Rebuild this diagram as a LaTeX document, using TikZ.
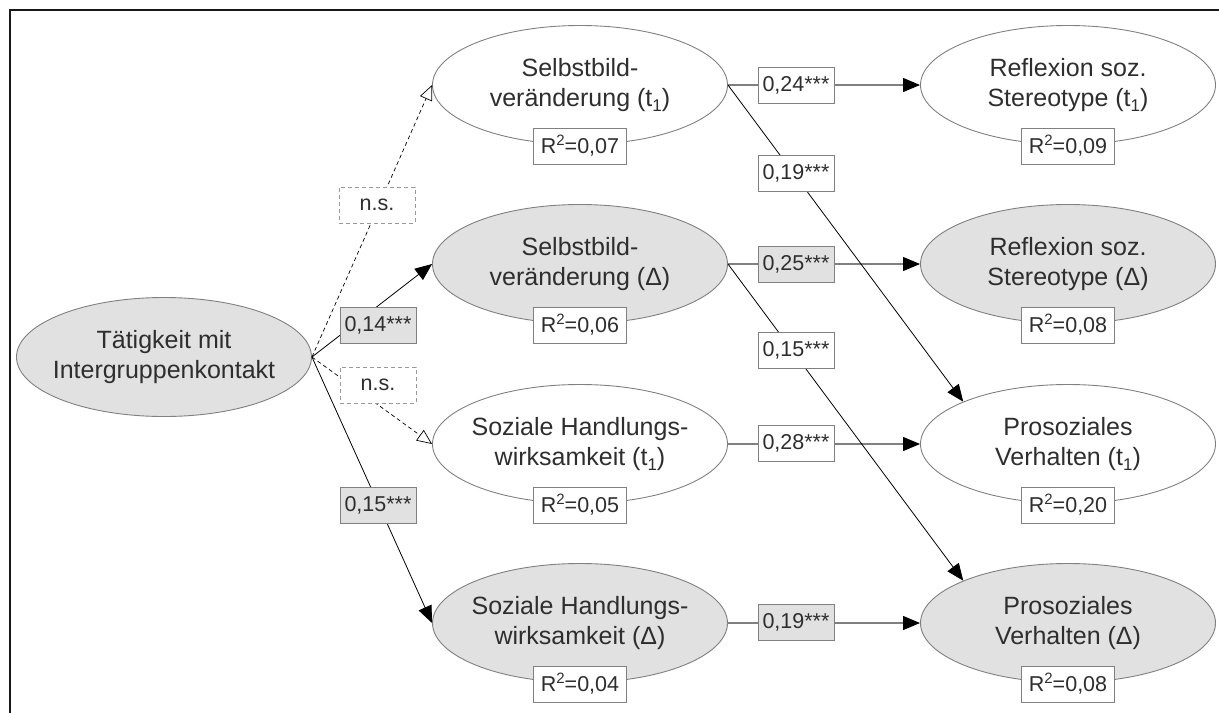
\documentclass[tikz,border=0pt]{standalone}
\usepackage{fontspec}
\setmainfont{Liberation Sans}
\usetikzlibrary{shapes.geometric,arrows.meta}
\definecolor{fillg}{HTML}{E1E1E1}
\definecolor{lineg}{HTML}{808080}
\definecolor{txt}{HTML}{2E2E2E}
\newcommand{\tone}{t\raisebox{-5pt}{\fontsize{17}{17}\selectfont 1}}
\newcommand{\rsq}{R\raisebox{8pt}{\fontsize{15}{15}\selectfont 2}}
\begin{document}
\begin{tikzpicture}[x=1pt,y=-1pt,
  var/.style={ellipse,draw=lineg,line width=0.9pt,minimum width=295pt,minimum height=119pt,
    inner xsep=-12pt,inner ysep=0pt,align=center,text=txt,font=\fontsize{25}{30}\selectfont},
  lat/.style={var,fill=fillg},
  rbox/.style={draw=lineg,fill=white,line width=0.9pt,minimum width=93pt,minimum height=36pt,
    inner sep=0pt,text=txt,font=\fontsize{21.5}{24}\selectfont},
  cbox/.style={rbox,minimum width=76pt},
  gbox/.style={cbox,fill=fillg},
  nbox/.style={cbox,draw=lineg!80,dash pattern=on 4pt off 3pt},
  sig/.style={draw=black,line width=0.8pt,-{Triangle[length=17pt,width=14pt]}},
  hsig/.style={draw=lineg,line width=1.1pt,-{Triangle[length=17pt,width=14pt,color=black]}},
  nsig/.style={draw=black,line width=0.7pt,dash pattern=on 4pt off 3pt,
    -{Triangle[open,length=15pt,width=13pt,fill=white,color=black]}}
]
\useasboundingbox (0,0) rectangle (1219,713);
\draw[line width=2.5pt,black!90] (10,713) -- (10,10) -- (1219,10);

% variables
\node[lat] (A) at (164,357) {Tätigkeit mit\\Intergruppenkontakt};
\node[var] (S1) at (580,85) {Selbstbild-\\veränderung (\tone)};
\node[lat] (S2) at (580,264) {Selbstbild-\\veränderung (Δ)};
\node[var] (H1) at (580,444) {Soziale Handlungs-\\wirksamkeit (\tone)};
\node[lat] (H2) at (580,623) {Soziale Handlungs-\\wirksamkeit (Δ)};
\node[var] (R1) at (1068,85) {Reflexion soz.\\Stereotype (\tone)};
\node[lat] (R2) at (1068,264) {Reflexion soz.\\Stereotype (Δ)};
\node[var] (P1) at (1068,444) {Prosoziales\\Verhalten (\tone)};
\node[lat] (P2) at (1068,623) {Prosoziales\\Verhalten (Δ)};

% paths from A
\draw[nsig] (A.east) -- (S1.west);
\draw[sig] (A.east) -- (S2.west);
\draw[nsig] (A.east) -- (H1.west);
\draw[sig] (A.east) -- (H2.west);

% horizontal paths
\draw[hsig] (S1.east) -- (R1.west);
\draw[hsig] (S2.east) -- (R2.west);
\draw[hsig] (H1.east) -- (P1.west);
\draw[hsig] (H2.east) -- (P2.west);

% diagonal paths
\draw[sig] (S1.east) -- (P1.158);
\draw[sig] (S2.east) -- (P2.158);

% coefficient boxes
\node[nbox] (k1) at (377,205) {n.s.};
\node[gbox] (k2) at (378,325) {0,14***};
\node[nbox] (k3) at (378,385) {n.s.};
\node[gbox] (k4) at (378,505) {0,15***};
\node[cbox] (k5) at (796,85) {0,24***};
\node[cbox] (k6) at (796,173) {0,19***};
\node[gbox] (k7) at (796,264) {0,25***};
\node[cbox] (k8) at (796,350) {0,15***};
\node[cbox] (k9) at (796,443) {0,28***};
\node[gbox] (k10) at (796,622) {0,19***};

% R^2 boxes
\node[rbox] (rs1) at (580,146) {\rsq=0,07};
\node[rbox] (rs2) at (580,325) {\rsq=0,06};
\node[rbox] (rh1) at (580,505) {\rsq=0,05};
\node[rbox] (rh2) at (580,684) {\rsq=0,04};
\node[rbox] (rr1) at (1068,146) {\rsq=0,09};
\node[rbox] (rr2) at (1068,325) {\rsq=0,08};
\node[rbox] (rp1) at (1068,505) {\rsq=0,20};
\node[rbox] (rp2) at (1068,684) {\rsq=0,08};
\end{tikzpicture}
\end{document}
